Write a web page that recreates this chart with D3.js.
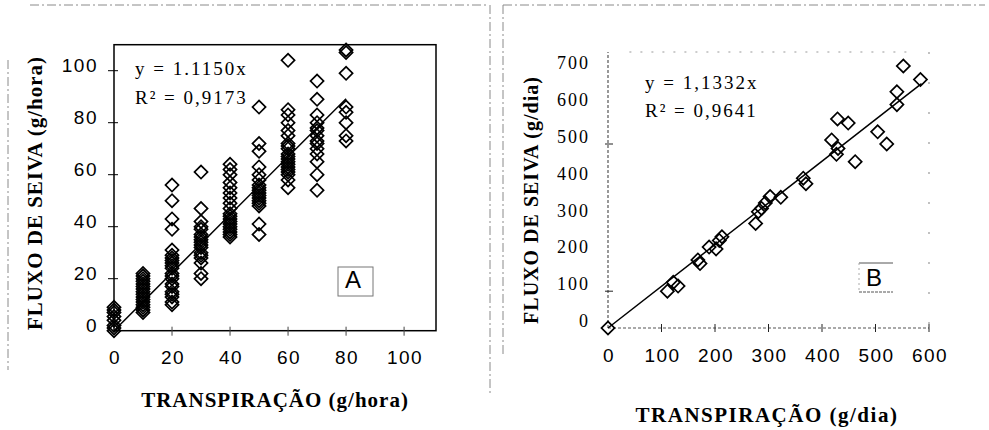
<!DOCTYPE html>
<html>
<head>
<meta charset="utf-8">
<script src="https://cdn.jsdelivr.net/npm/d3@7"></script>
<style>
  body { margin: 0; background: #fff; }
  svg { display: block; }
</style>
</head>
<body>
<svg id="chart" width="989" height="430"></svg>
<script>
// Panel A: sap flow vs transpiration (g/hora), grouped by transpiration level
const transpA = [0, 10, 20, 30, 40, 50, 60, 70, 80];
const fluxoA = [
    [9, 8, 7, 5.5, 4, 2, 1, 0],
    [22, 21, 20, 19, 18, 17, 16, 15, 14, 13, 12, 11, 10, 9, 8, 7],
    [56, 50, 43, 39, 31, 29, 28, 27, 26, 25, 24, 22, 21, 20, 18, 17, 15, 14, 13, 11, 10],
    [61, 47, 42, 40, 39, 37, 36, 35, 34, 33, 32, 30, 29, 28, 26, 22, 20],
    [64, 62, 60, 57, 55, 53, 51, 49, 47, 45, 44, 43, 42, 41, 40, 39, 38, 37, 36],
    [86, 72, 69, 63, 60, 58, 56, 55, 54, 53, 52, 51, 50, 49, 48, 41, 37],
    [104, 85, 83, 80, 77, 75, 72, 71, 70, 68, 67, 66, 65, 64, 63, 62, 61, 60, 58, 55],
    [96, 89, 83, 80, 78, 77, 75, 73, 72, 70, 68, 65, 60, 54],
    [108, 107, 99, 86, 84, 80, 75, 73]
];
const slopeA = 1.1150;
const ticksA = [0, 20, 40, 60, 80, 100];

// Panel B: daily values (g/dia)
const transpB = [0, 111, 122, 131, 168, 172, 189, 202, 208, 213, 276, 281, 287, 294, 303, 323,
    365, 370, 418, 429, 449, 430, 427, 462, 504, 521, 540, 540, 552, 584];
const fluxoB = [0, 100, 124, 114, 185, 175, 220, 215, 238, 248, 284, 316, 325, 340, 357, 355,
    407, 392, 511, 568, 557, 488, 472, 452, 533, 500, 607, 642, 712, 675];
const slopeB = 1.1332;
const ticksBx = [0, 100, 200, 300, 400, 500, 600];
const ticksBy = [0, 100, 200, 300, 400, 500, 600, 700];

const sans = "Liberation Sans, Arial, sans-serif";
const serif = "Liberation Serif, Times New Roman, serif";

const svg = d3.select("#chart");

// scan frame lines
const frame = svg.append("g")
    .attr("stroke", "#8a8a8a")
    .attr("stroke-width", 1)
    .attr("stroke-dasharray", "9 3 2 3")
    .attr("fill", "none");
frame.append("line").attr("x1", 30).attr("y1", 5).attr("x2", 489).attr("y2", 5);
frame.append("line").attr("x1", 490).attr("y1", 5).attr("x2", 490).attr("y2", 395);
frame.append("line").attr("x1", 8).attr("y1", 60).attr("x2", 8).attr("y2", 370);
frame.append("line").attr("x1", 503).attr("y1", 5).attr("x2", 985).attr("y2", 5);
frame.append("line").attr("x1", 503).attr("y1", 5).attr("x2", 503).attr("y2", 355);

const diamond = d3.symbol().type(d3.symbolSquare).size(86);

// ---------- Panel A ----------
const xA = d3.scaleLinear().domain([0, 111]).range([114, 436]);
const yA = d3.scaleLinear().domain([0, 110]).range([330.7, 44.7]);

const gA = svg.append("g");

gA.append("rect")
    .attr("x", xA(0))
    .attr("y", yA(110))
    .attr("width", xA(111) - xA(0))
    .attr("height", yA(0) - yA(110))
    .attr("fill", "none")
    .attr("stroke", "#000")
    .attr("stroke-width", 1.5);

// ticks
gA.selectAll(".ytA").data(ticksA.slice(1)).enter().append("line")
    .attr("x1", xA(0) - 6).attr("x2", xA(0) + 4)
    .attr("y1", d => yA(d)).attr("y2", d => yA(d))
    .attr("stroke", "#000").attr("stroke-width", 1);
gA.selectAll(".xtA").data(ticksA.slice(1)).enter().append("line")
    .attr("x1", d => xA(d)).attr("x2", d => xA(d))
    .attr("y1", yA(0) - 4).attr("y2", yA(0) + 5)
    .attr("stroke", "#444").attr("stroke-width", 1);

gA.selectAll(".ylA").data(ticksA).enter().append("text")
    .attr("x", xA(0) - 16)
    .attr("y", d => yA(d) + 1)
    .attr("text-anchor", "end")
    .attr("font-family", sans)
    .attr("font-size", "19px")
    .attr("letter-spacing", "1.5px")
    .text(d => d);

gA.selectAll(".xlA").data(ticksA).enter().append("text")
    .attr("x", d => xA(d) + 1)
    .attr("y", 364)
    .attr("text-anchor", "middle")
    .attr("font-family", sans)
    .attr("font-size", "19px")
    .attr("letter-spacing", "1.5px")
    .text(d => d);

// regression line
gA.append("line")
    .attr("x1", xA(0)).attr("y1", yA(0))
    .attr("x2", xA(80)).attr("y2", yA(80 * slopeA))
    .attr("stroke", "#000").attr("stroke-width", 1.5);

const pointsA = transpA.flatMap((t, i) => fluxoA[i].map(f => ({ x: t, y: f })));
gA.selectAll(".ptA").data(pointsA).enter().append("path")
    .attr("d", diamond)
    .attr("transform", d => `translate(${xA(d.x)},${yA(d.y)}) rotate(45)`)
    .attr("fill", "none")
    .attr("stroke", "#000")
    .attr("stroke-width", 1.7);

gA.append("text")
    .attr("x", 135).attr("y", 75)
    .attr("font-family", serif)
    .attr("font-size", "19px")
    .attr("letter-spacing", "2px")
    .text("y = 1.1150x");
gA.append("text")
    .attr("x", 135).attr("y", 104)
    .attr("font-family", serif)
    .attr("font-size", "19px")
    .attr("letter-spacing", "2px")
    .text("R² = 0,9173");

gA.append("rect")
    .attr("x", 338).attr("y", 267).attr("width", 35).attr("height", 29)
    .attr("fill", "none").attr("stroke", "#777").attr("stroke-width", 1);
gA.append("text")
    .attr("x", 353).attr("y", 288)
    .attr("text-anchor", "middle")
    .attr("font-family", sans)
    .attr("font-size", "24px")
    .text("A");

gA.append("text")
    .attr("transform", "translate(42,193) rotate(-90)")
    .attr("text-anchor", "middle")
    .attr("font-family", serif)
    .attr("font-weight", "bold")
    .attr("font-size", "21px")
    .attr("letter-spacing", "1px")
    .text("FLUXO DE SEIVA (g/hora)");
gA.append("text")
    .attr("x", 275).attr("y", 407)
    .attr("text-anchor", "middle")
    .attr("font-family", serif)
    .attr("font-weight", "bold")
    .attr("font-size", "21px")
    .attr("letter-spacing", "1px")
    .text("TRANSPIRAÇÃO (g/hora)");

// ---------- Panel B ----------
const xB = d3.scaleLinear().domain([0, 600]).range([608, 929]);
const yB = d3.scaleLinear().domain([0, 750]).range([328, 52]);

const gB = svg.append("g");

const dotted = gB.append("g")
    .attr("stroke", "#555")
    .attr("stroke-width", 1.2)
    .attr("stroke-dasharray", "3 2")
    .attr("fill", "none");
dotted.append("line").attr("x1", xB(0)).attr("y1", yB(0)).attr("x2", xB(0)).attr("y2", yB(750));
dotted.append("line").attr("x1", xB(0)).attr("y1", yB(0)).attr("x2", xB(600)).attr("y2", yB(0));
dotted.append("line").attr("x1", xB(40)).attr("y1", yB(750)).attr("x2", xB(560)).attr("y2", yB(750))
    .attr("stroke", "#999").attr("stroke-dasharray", "2 9");
dotted.append("line").attr("x1", xB(600)).attr("y1", yB(750)).attr("x2", xB(600)).attr("y2", yB(0))
    .attr("stroke", "#999").attr("stroke-dasharray", "2 28");

gB.selectAll(".xtB").data(ticksBx.slice(1)).enter().append("line")
    .attr("x1", d => xB(d)).attr("x2", d => xB(d))
    .attr("y1", yB(0) - 4).attr("y2", yB(0) + 4)
    .attr("stroke", "#222").attr("stroke-width", 1);
gB.selectAll(".ytB").data([100, 500]).enter().append("line")
    .attr("x1", xB(0) - 3).attr("x2", xB(0) + 5)
    .attr("y1", d => yB(d)).attr("y2", d => yB(d))
    .attr("stroke", "#222").attr("stroke-width", 1);

gB.selectAll(".ylB").data(ticksBy).enter().append("text")
    .attr("x", xB(0) - 18)
    .attr("y", d => yB(d) - 1)
    .attr("text-anchor", "end")
    .attr("font-family", serif)
    .attr("font-size", "18px")
    .attr("letter-spacing", "2px")
    .text(d => d);

gB.selectAll(".xlB").data(ticksBx).enter().append("text")
    .attr("x", d => xB(d) + 1)
    .attr("y", 362)
    .attr("text-anchor", "middle")
    .attr("font-family", sans)
    .attr("font-size", "19px")
    .attr("letter-spacing", "1.5px")
    .text(d => d);

gB.append("line")
    .attr("x1", xB(0)).attr("y1", yB(0))
    .attr("x2", xB(586)).attr("y2", yB(586 * slopeB))
    .attr("stroke", "#000").attr("stroke-width", 1.5);

const pointsB = transpB.map((t, i) => ({ x: t, y: fluxoB[i] }));
gB.selectAll(".ptB").data(pointsB).enter().append("path")
    .attr("d", diamond)
    .attr("transform", d => `translate(${xB(d.x)},${yB(d.y)}) rotate(45)`)
    .attr("fill", "none")
    .attr("stroke", "#000")
    .attr("stroke-width", 1.7);

gB.append("text")
    .attr("x", 645).attr("y", 89)
    .attr("font-family", serif)
    .attr("font-size", "19px")
    .attr("letter-spacing", "2px")
    .text("y = 1,1332x");
gB.append("text")
    .attr("x", 645).attr("y", 117)
    .attr("font-family", serif)
    .attr("font-size", "19px")
    .attr("letter-spacing", "2px")
    .text("R² = 0,9641");

gB.append("line").attr("x1", 859).attr("y1", 263).attr("x2", 893).attr("y2", 263)
    .attr("stroke", "#555").attr("stroke-width", 1);
gB.append("line").attr("x1", 859).attr("y1", 292).attr("x2", 893).attr("y2", 292)
    .attr("stroke", "#555").attr("stroke-width", 1).attr("stroke-dasharray", "3 1");
gB.append("line").attr("x1", 859).attr("y1", 263).attr("x2", 859).attr("y2", 292)
    .attr("stroke", "#aaa").attr("stroke-width", 1).attr("stroke-dasharray", "2 3");
gB.append("text")
    .attr("x", 874).attr("y", 286)
    .attr("text-anchor", "middle")
    .attr("font-family", sans)
    .attr("font-size", "24px")
    .text("B");

gB.append("text")
    .attr("transform", "translate(538,200) rotate(-90)")
    .attr("text-anchor", "middle")
    .attr("font-family", serif)
    .attr("font-weight", "bold")
    .attr("font-size", "20px")
    .attr("letter-spacing", "1px")
    .text("FLUXO DE SEIVA (g/dia)");
gB.append("text")
    .attr("x", 767).attr("y", 422)
    .attr("text-anchor", "middle")
    .attr("font-family", serif)
    .attr("font-weight", "bold")
    .attr("font-size", "21px")
    .attr("letter-spacing", "1.5px")
    .text("TRANSPIRAÇÃO (g/dia)");
</script>
</body>
</html>
